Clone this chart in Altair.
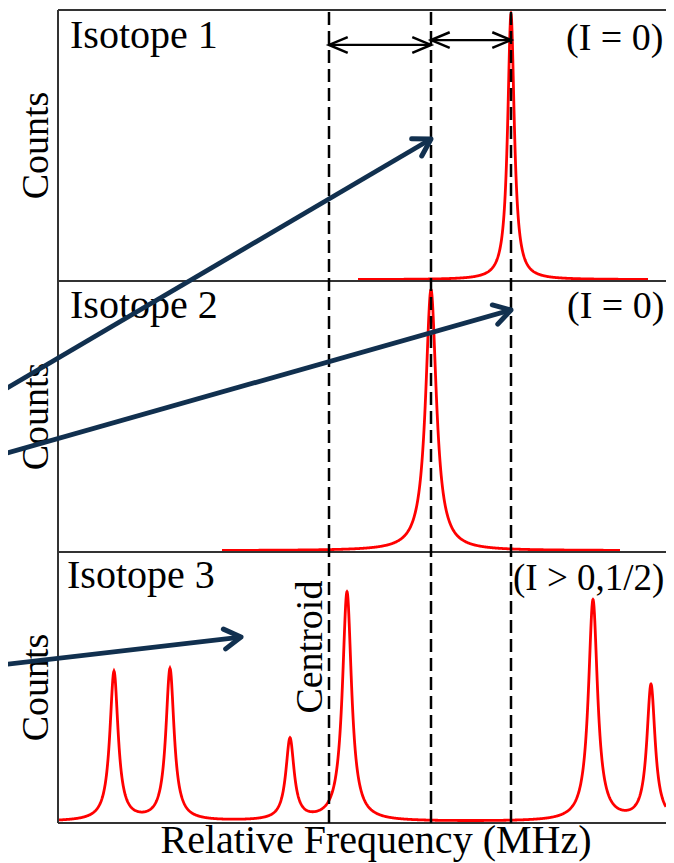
import altair as alt
import numpy as np
import pandas as pd

# ---------------- data (x: relative frequency, y: normalised counts; panels stacked) -------------
X_MIN, X_MAX = -3730, 2350
Y_MIN, Y_MAX = 0, 3

panel_names = ["Isotope 1", "Isotope 2", "Isotope 3"]
panel_offsets = [2, 1, 0]
spin_labels = ["(I = 0)", "(I = 0)", "(I > 0,1/2)"]
x_title = "Relative Frequency (MHz)"

iso1_centers = [800]
iso1_heights = [0.98]
iso1_hwhm = [40]
iso1_range = [-730, 2170]

iso2_centers = [0]
iso2_heights = [0.963]
iso2_hwhm = [65]
iso2_range = [-2090, 1890]

iso3_centers = [-3170, -2610, -1410, -840, 1620, 2200]
iso3_heights = [0.55, 0.56, 0.30, 0.845, 0.815, 0.50]
iso3_hwhm = [50, 50, 50, 55, 55, 50]
iso3_range = [-3730, 2350]

baseline = 0.005

dashed_x = [-1020, 0, 800]
centroid_label = "Centroid"
centroid_pos = [-1090, 0.649]

# double-headed spacing arrows at the top of panel 1
dbl_x_start = [-1020, 0]
dbl_x_end = [0, 800]
dbl_y = [2.871, 2.889]

# navy pointer arrows
arrow_x_start = [-4310, -4310, -4310]
arrow_y_start = [1.590, 1.358, 0.583]
arrow_x_end = [0, 800, -1900]
arrow_y_end = [2.524, 1.893, 0.686]

# label anchors
iso_label_x = [-3610, -3610, -3640]
iso_label_y = [2.860, 1.863, 0.867]
spin_label_x = [1350, 1360, 820]
spin_label_y = [2.852, 1.863, 0.860]
spin_font = [38, 38, 37]
counts_x = -3830
counts_y = [2.5, 1.5, 0.5]
x_title_pos = [-550, -0.111]

# ---------------- build tables -------------
W, H = 608, 813
px_per_x = W / (X_MAX - X_MIN)
px_per_y = H / (Y_MAX - Y_MIN)

peak_sets = [
    (iso1_centers, iso1_heights, iso1_hwhm, iso1_range),
    (iso2_centers, iso2_heights, iso2_hwhm, iso2_range),
    (iso3_centers, iso3_heights, iso3_hwhm, iso3_range),
]
rows = []
for name, off, (cs, hs, gs, rng) in zip(panel_names, panel_offsets, peak_sets):
    grid = np.unique(np.concatenate([np.arange(rng[0], rng[1] + 1, 4.0), np.array(cs, float)]))
    yv = np.full_like(grid, baseline)
    for c, h, g in zip(cs, hs, gs):
        yv += h * g**2 / ((grid - c) ** 2 + g**2)
    for xv, y in zip(grid, yv):
        rows.append({"panel": name, "x": xv, "y": off + y})
curves = pd.DataFrame(rows)

borders_h = pd.DataFrame({"x": [X_MIN] * 4, "x2": [X_MAX + 200] * 4, "y": [0, 1, 2, 3]})
border_v = pd.DataFrame({"x": [X_MIN], "y": [Y_MIN], "y2": [Y_MAX]})
dashed = pd.DataFrame({"x": dashed_x, "y": [Y_MIN] * 3, "y2": [Y_MAX] * 3})

dbl = pd.DataFrame({"x": dbl_x_start, "x2": dbl_x_end, "y": dbl_y})
dbl_heads = pd.DataFrame({
    "x": dbl_x_start + dbl_x_end,
    "y": dbl_y + dbl_y,
    "angle": [180, 180, 0, 0],
})

arrows = pd.DataFrame({"x": arrow_x_start, "y": arrow_y_start, "x2": arrow_x_end, "y2": arrow_y_end})
ang = []
for xs0, ys0, xe, ye in zip(arrow_x_start, arrow_y_start, arrow_x_end, arrow_y_end):
    a = np.degrees(np.arctan2(-(ye - ys0) * px_per_y, (xe - xs0) * px_per_x)) % 360
    ang.append(float(a))
arrow_heads = pd.DataFrame({"x": arrow_x_end, "y": arrow_y_end, "angle": ang})

iso_labels = pd.DataFrame({"x": iso_label_x, "y": iso_label_y, "t": panel_names})
spin_df = pd.DataFrame({"x": spin_label_x, "y": spin_label_y, "t": spin_labels, "fs": spin_font})
counts_df = pd.DataFrame({"x": [counts_x] * 3, "y": counts_y, "t": ["Counts"] * 3})
centroid_df = pd.DataFrame({"x": [centroid_pos[0]], "y": [centroid_pos[1]], "t": [centroid_label]})
xtitle_df = pd.DataFrame({"x": [x_title_pos[0]], "y": [x_title_pos[1]], "t": [x_title]})

# ---------------- chart -------------
FONT = "Liberation Serif"
NAVY = "#11304f"
xs = alt.Scale(domain=[X_MIN, X_MAX], nice=False, zero=False)
ys = alt.Scale(domain=[Y_MIN, Y_MAX], nice=False, zero=False)


def X(f="x"):
    return alt.X(f"{f}:Q", scale=xs, axis=None)


def Y(f="y"):
    return alt.Y(f"{f}:Q", scale=ys, axis=None)


curve_layer = alt.Chart(curves).mark_line(color="#ff0000", strokeWidth=2.8).encode(
    x=X(), y=Y(), detail="panel:N",
)

hb = alt.Chart(borders_h).mark_rule(color="#333333", strokeWidth=2).encode(
    x=X(), x2="x2:Q", y=Y())
vb = alt.Chart(border_v).mark_rule(color="#333333", strokeWidth=2).encode(
    x=X(), y=Y(), y2="y2:Q")
dash_layer = alt.Chart(dashed).mark_rule(color="black", strokeWidth=2.5, strokeDash=[13, 6]).encode(
    x=X(), y=Y(), y2="y2:Q")

dbl_layer = alt.Chart(dbl).mark_rule(color="black", strokeWidth=2.2).encode(
    x=X(), x2="x2:Q", y=Y())
dbl_head_layer = alt.Chart(dbl_heads).mark_point(
    shape="M-1,-0.42L0,0L-1,0.42", filled=False, color="black", strokeWidth=2.5,
    size=1400, opacity=1, strokeJoin="miter").encode(
    x=X(), y=Y(), angle=alt.Angle("angle:Q", scale=None))

arrow_layer = alt.Chart(arrows).mark_rule(color=NAVY, strokeWidth=4.8).encode(
    x=X(), x2="x2:Q", y=Y(), y2="y2:Q")
arrow_head_layer = alt.Chart(arrow_heads).mark_point(
    shape="M-1,-0.6L0,0L-1,0.6", filled=False, color=NAVY, strokeWidth=5,
    size=1100, opacity=1, strokeCap="round", strokeJoin="round").encode(
    x=X(), y=Y(), angle=alt.Angle("angle:Q", scale=None))

txt = dict(font=FONT, color="black", baseline="alphabetic")
iso_layer = alt.Chart(iso_labels).mark_text(align="left", fontSize=40, **txt).encode(
    x=X(), y=Y(), text="t:N")
spin_layer = alt.Chart(spin_df).mark_text(align="left", **txt).encode(
    x=X(), y=Y(), text="t:N", size=alt.Size("fs:Q", scale=None))
counts_layer = alt.Chart(counts_df).mark_text(align="center", angle=270, fontSize=38, **txt).encode(
    x=X(), y=Y(), text="t:N")
centroid_layer = alt.Chart(centroid_df).mark_text(align="center", angle=270, fontSize=38, **txt).encode(
    x=X(), y=Y(), text="t:N")
xtitle_layer = alt.Chart(xtitle_df).mark_text(align="center", fontSize=40, **txt).encode(
    x=X(), y=Y(), text="t:N")

chart = alt.layer(
    curve_layer, hb, vb, dash_layer, iso_layer, spin_layer, counts_layer, centroid_layer,
    xtitle_layer, dbl_layer, dbl_head_layer, arrow_layer, arrow_head_layer,
).properties(
    width=W, height=H,
    autosize=alt.AutoSizeParams(type="none"),
    padding={"left": 50, "top": 2, "right": 0, "bottom": 40},
    background="white",
).configure_view(strokeWidth=0)

chart.save("out.html", embed_options={"renderer": "svg", "actions": False})
